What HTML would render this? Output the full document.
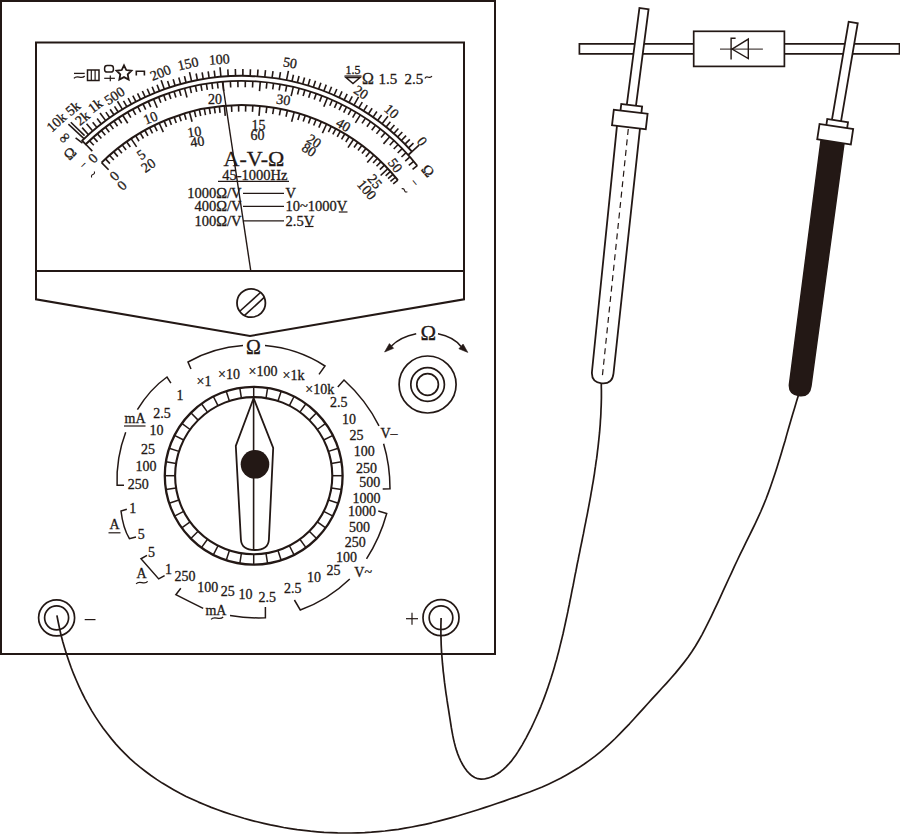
<!DOCTYPE html>
<html><head><meta charset="utf-8"><style>
html,body{margin:0;padding:0;background:#fff;}
svg{display:block;}
</style></head><body>
<svg width="900" height="834" viewBox="0 0 900 834" fill="none" stroke="#231815" font-family="Liberation Serif, serif">
<g id="txt" fill="#231815" stroke="none">
</g>
<rect x="1" y="1" width="494" height="653" stroke-width="2"/>
<path d="M36,42.4 H464 V299.3 L250,336 L36,299.3 Z" stroke-width="2"/>
<line x1="36" y1="271" x2="464" y2="271" stroke-width="2" />
<circle cx="251.2" cy="303" r="14.2" stroke-width="1.8"/>
<line x1="239.5" y1="311.5" x2="260.5" y2="292.5" stroke-width="1.6" />
<line x1="244.3" y1="315.7" x2="264.5" y2="297.2" stroke-width="1.6" />
<path d="M82.15,140.63 A229,229 0 0 1 411.98,151.57" stroke-width="1.9"/>
<path d="M85.7,144.28 A223.9,223.9 0 0 1 417.27,165.73" stroke-width="1.9"/>
<line x1="81.59" y1="140.05" x2="86.26" y2="144.86" stroke-width="1.8" />
<line x1="411.98" y1="151.57" x2="408.19" y2="154.98" stroke-width="1.8" />
<line x1="68.4" y1="124.1" x2="84.2" y2="138.9" stroke-width="1.5" />
<line x1="70.8" y1="122.3" x2="84.6" y2="135.6" stroke-width="1.5" />
<line x1="75.6" y1="137.8" x2="82.5" y2="143.2" stroke-width="1.5" />
<line x1="88.52" y1="134.67" x2="82.16" y2="127.61" stroke-width="1.6" />
<line x1="92.75" y1="130.94" x2="86.57" y2="123.73" stroke-width="1.6" />
<line x1="96.98" y1="127.41" x2="92.68" y2="122.14" stroke-width="1.6" />
<line x1="101.3" y1="123.97" x2="97.12" y2="118.6" stroke-width="1.6" />
<line x1="105.69" y1="120.64" x2="100.04" y2="113" stroke-width="1.6" />
<line x1="109.78" y1="117.68" x2="105.86" y2="112.13" stroke-width="1.6" />
<line x1="113.94" y1="114.82" x2="110.14" y2="109.18" stroke-width="1.6" />
<line x1="118.16" y1="112.05" x2="114.49" y2="106.32" stroke-width="1.6" />
<line x1="122.44" y1="109.37" x2="117.49" y2="101.26" stroke-width="1.6" />
<line x1="126.89" y1="106.72" x2="123.47" y2="100.84" stroke-width="1.6" />
<line x1="131.39" y1="104.17" x2="128.11" y2="98.22" stroke-width="1.6" />
<line x1="135.95" y1="101.73" x2="132.81" y2="95.7" stroke-width="1.6" />
<line x1="140.56" y1="99.39" x2="137.56" y2="93.29" stroke-width="1.6" />
<line x1="145.23" y1="97.16" x2="142.36" y2="90.99" stroke-width="1.6" />
<line x1="149.95" y1="95.03" x2="147.22" y2="88.8" stroke-width="1.6" />
<line x1="154.71" y1="93.01" x2="152.12" y2="86.72" stroke-width="1.6" />
<line x1="159.52" y1="91.09" x2="157.07" y2="84.75" stroke-width="1.6" />
<line x1="164.36" y1="89.29" x2="161.15" y2="80.35" stroke-width="1.6" />
<line x1="169.73" y1="87.44" x2="167.59" y2="80.98" stroke-width="1.6" />
<line x1="175.15" y1="85.71" x2="173.17" y2="79.21" stroke-width="1.6" />
<line x1="180.6" y1="84.13" x2="178.79" y2="77.58" stroke-width="1.6" />
<line x1="186.1" y1="82.68" x2="184.44" y2="76.08" stroke-width="1.6" />
<line x1="191.62" y1="81.36" x2="189.54" y2="72.1" stroke-width="1.6" />
<line x1="197.43" y1="80.14" x2="196.11" y2="73.47" stroke-width="1.6" />
<line x1="203.26" y1="79.07" x2="202.12" y2="72.36" stroke-width="1.6" />
<line x1="209.13" y1="78.14" x2="208.16" y2="71.41" stroke-width="1.6" />
<line x1="215.01" y1="77.37" x2="214.21" y2="70.62" stroke-width="1.6" />
<line x1="220.91" y1="76.75" x2="220.04" y2="67.29" stroke-width="1.6" />
<line x1="228.22" y1="76.2" x2="227.81" y2="69.42" stroke-width="1.6" />
<line x1="235.54" y1="75.89" x2="235.35" y2="69.09" stroke-width="1.6" />
<line x1="242.87" y1="75.8" x2="242.9" y2="69" stroke-width="1.6" />
<line x1="250.19" y1="75.95" x2="250.44" y2="69.16" stroke-width="1.6" />
<line x1="257.51" y1="76.34" x2="257.98" y2="69.56" stroke-width="1.6" />
<line x1="264.81" y1="76.96" x2="265.5" y2="70.19" stroke-width="1.6" />
<line x1="272.09" y1="77.81" x2="272.99" y2="71.07" stroke-width="1.6" />
<line x1="279.34" y1="78.9" x2="280.45" y2="72.19" stroke-width="1.6" />
<line x1="286.55" y1="80.21" x2="288.4" y2="70.9" stroke-width="1.6" />
<line x1="291.98" y1="81.36" x2="293.47" y2="74.73" stroke-width="1.6" />
<line x1="297.38" y1="82.65" x2="299.03" y2="76.05" stroke-width="1.6" />
<line x1="302.74" y1="84.06" x2="304.55" y2="77.5" stroke-width="1.6" />
<line x1="308.07" y1="85.6" x2="310.04" y2="79.09" stroke-width="1.6" />
<line x1="313.37" y1="87.27" x2="315.49" y2="80.81" stroke-width="1.6" />
<line x1="318.62" y1="89.07" x2="320.9" y2="82.66" stroke-width="1.6" />
<line x1="323.82" y1="90.99" x2="326.26" y2="84.64" stroke-width="1.6" />
<line x1="328.98" y1="93.04" x2="331.57" y2="86.76" stroke-width="1.6" />
<line x1="334.08" y1="95.22" x2="336.83" y2="88.99" stroke-width="1.6" />
<line x1="339.14" y1="97.52" x2="342.03" y2="91.36" stroke-width="1.6" />
<line x1="344.13" y1="99.94" x2="347.17" y2="93.85" stroke-width="1.6" />
<line x1="349.07" y1="102.48" x2="352.25" y2="96.47" stroke-width="1.6" />
<line x1="353.94" y1="105.13" x2="358.59" y2="96.85" stroke-width="1.6" />
<line x1="358.82" y1="107.96" x2="362.29" y2="102.11" stroke-width="1.6" />
<line x1="363.63" y1="110.9" x2="367.24" y2="105.14" stroke-width="1.6" />
<line x1="368.36" y1="113.95" x2="372.12" y2="108.29" stroke-width="1.6" />
<line x1="373.02" y1="117.13" x2="376.92" y2="111.55" stroke-width="1.6" />
<line x1="377.6" y1="120.41" x2="381.63" y2="114.94" stroke-width="1.6" />
<line x1="382.1" y1="123.81" x2="387.92" y2="116.3" stroke-width="1.6" />
<line x1="386.1" y1="126.98" x2="390.38" y2="121.7" stroke-width="1.6" />
<line x1="390.03" y1="130.24" x2="394.43" y2="125.06" stroke-width="1.6" />
<line x1="393.88" y1="133.59" x2="398.4" y2="128.51" stroke-width="1.6" />
<line x1="397.66" y1="137.02" x2="402.29" y2="132.04" stroke-width="1.6" />
<line x1="401.36" y1="140.54" x2="406.1" y2="135.66" stroke-width="1.6" />
<line x1="404.98" y1="144.14" x2="409.83" y2="139.37" stroke-width="1.6" />
<line x1="408.52" y1="147.81" x2="413.47" y2="143.15" stroke-width="1.6" />
<line x1="411.98" y1="151.57" x2="419.04" y2="145.21" stroke-width="1.6" />
<line x1="85.7" y1="144.28" x2="92.33" y2="151.09" stroke-width="1.6" />
<line x1="89.5" y1="140.68" x2="93.79" y2="145.3" stroke-width="1.6" />
<line x1="93.38" y1="137.16" x2="97.55" y2="141.88" stroke-width="1.6" />
<line x1="97.34" y1="133.74" x2="101.4" y2="138.55" stroke-width="1.6" />
<line x1="101.38" y1="130.41" x2="105.33" y2="135.32" stroke-width="1.6" />
<line x1="105.49" y1="127.17" x2="109.33" y2="132.17" stroke-width="1.6" />
<line x1="109.68" y1="124.04" x2="113.4" y2="129.12" stroke-width="1.6" />
<line x1="113.94" y1="121" x2="117.54" y2="126.17" stroke-width="1.6" />
<line x1="118.27" y1="118.06" x2="121.75" y2="123.31" stroke-width="1.6" />
<line x1="122.67" y1="115.22" x2="127.73" y2="123.27" stroke-width="1.6" />
<line x1="127.63" y1="112.2" x2="130.84" y2="117.62" stroke-width="1.6" />
<line x1="132.66" y1="109.3" x2="135.73" y2="114.8" stroke-width="1.6" />
<line x1="137.76" y1="106.54" x2="140.69" y2="112.12" stroke-width="1.6" />
<line x1="142.94" y1="103.91" x2="145.72" y2="109.56" stroke-width="1.6" />
<line x1="148.18" y1="101.41" x2="150.81" y2="107.14" stroke-width="1.6" />
<line x1="153.48" y1="99.05" x2="157.23" y2="107.78" stroke-width="1.6" />
<line x1="158.55" y1="96.95" x2="160.89" y2="102.8" stroke-width="1.6" />
<line x1="163.67" y1="94.97" x2="165.87" y2="100.88" stroke-width="1.6" />
<line x1="168.83" y1="93.12" x2="170.89" y2="99.08" stroke-width="1.6" />
<line x1="174.04" y1="91.4" x2="175.95" y2="97.4" stroke-width="1.6" />
<line x1="179.29" y1="89.8" x2="181.05" y2="95.85" stroke-width="1.6" />
<line x1="184.58" y1="88.34" x2="187.01" y2="97.52" stroke-width="1.6" />
<line x1="189.98" y1="86.98" x2="191.43" y2="93.11" stroke-width="1.6" />
<line x1="195.4" y1="85.76" x2="196.71" y2="91.92" stroke-width="1.6" />
<line x1="200.86" y1="84.67" x2="202.01" y2="90.87" stroke-width="1.6" />
<line x1="206.34" y1="83.73" x2="207.34" y2="89.95" stroke-width="1.6" />
<line x1="211.85" y1="82.91" x2="212.69" y2="89.16" stroke-width="1.6" />
<line x1="217.37" y1="82.24" x2="218.06" y2="88.5" stroke-width="1.6" />
<line x1="222.91" y1="81.7" x2="223.71" y2="91.16" stroke-width="1.6" />
<line x1="230.38" y1="81.19" x2="230.7" y2="87.48" stroke-width="1.6" />
<line x1="237.86" y1="80.93" x2="237.97" y2="87.23" stroke-width="1.6" />
<line x1="245.34" y1="80.93" x2="245.24" y2="87.23" stroke-width="1.6" />
<line x1="252.82" y1="81.17" x2="252.51" y2="87.46" stroke-width="1.6" />
<line x1="260.29" y1="81.66" x2="259.5" y2="91.13" stroke-width="1.6" />
<line x1="266.95" y1="82.32" x2="266.24" y2="88.58" stroke-width="1.6" />
<line x1="273.59" y1="83.17" x2="272.7" y2="89.4" stroke-width="1.6" />
<line x1="280.2" y1="84.22" x2="279.12" y2="90.42" stroke-width="1.6" />
<line x1="286.78" y1="85.46" x2="285.52" y2="91.64" stroke-width="1.6" />
<line x1="293.32" y1="86.91" x2="291.13" y2="96.15" stroke-width="1.6" />
<line x1="299.12" y1="88.36" x2="297.51" y2="94.45" stroke-width="1.6" />
<line x1="304.88" y1="89.97" x2="303.11" y2="96.01" stroke-width="1.6" />
<line x1="310.6" y1="91.73" x2="308.66" y2="97.73" stroke-width="1.6" />
<line x1="316.26" y1="93.64" x2="314.17" y2="99.59" stroke-width="1.6" />
<line x1="321.88" y1="95.71" x2="319.62" y2="101.59" stroke-width="1.6" />
<line x1="327.43" y1="97.92" x2="323.8" y2="106.7" stroke-width="1.6" />
<line x1="332.3" y1="100.01" x2="329.76" y2="105.77" stroke-width="1.6" />
<line x1="337.12" y1="102.2" x2="334.44" y2="107.9" stroke-width="1.6" />
<line x1="341.89" y1="104.52" x2="339.07" y2="110.15" stroke-width="1.6" />
<line x1="346.6" y1="106.94" x2="343.65" y2="112.51" stroke-width="1.6" />
<line x1="351.25" y1="109.47" x2="348.17" y2="114.97" stroke-width="1.6" />
<line x1="355.84" y1="112.12" x2="352.63" y2="117.54" stroke-width="1.6" />
<line x1="360.37" y1="114.87" x2="355.34" y2="122.93" stroke-width="1.6" />
<line x1="365.51" y1="118.18" x2="362.02" y2="123.43" stroke-width="1.6" />
<line x1="370.55" y1="121.62" x2="366.93" y2="126.78" stroke-width="1.6" />
<line x1="375.5" y1="125.2" x2="371.74" y2="130.26" stroke-width="1.6" />
<line x1="380.35" y1="128.92" x2="376.46" y2="133.87" stroke-width="1.6" />
<line x1="385.1" y1="132.77" x2="381.07" y2="137.61" stroke-width="1.6" />
<line x1="389.74" y1="136.74" x2="383.47" y2="143.87" stroke-width="1.6" />
<line x1="393.99" y1="140.57" x2="389.71" y2="145.19" stroke-width="1.6" />
<line x1="398.13" y1="144.51" x2="393.73" y2="149.02" stroke-width="1.6" />
<line x1="402.17" y1="148.56" x2="397.66" y2="152.95" stroke-width="1.6" />
<line x1="406.11" y1="152.7" x2="401.49" y2="156.98" stroke-width="1.6" />
<line x1="409.94" y1="156.95" x2="405.21" y2="161.11" stroke-width="1.6" />
<line x1="413.66" y1="161.29" x2="408.82" y2="165.33" stroke-width="1.6" />
<line x1="417.27" y1="165.73" x2="412.57" y2="169.45" stroke-width="1.6" />
<path d="M101.58,162.61 A199.7,199.7 0 0 1 397.87,180.21" stroke-width="2.0"/>
<line x1="101.58" y1="162.61" x2="108.6" y2="169.73" stroke-width="1.6" />
<line x1="105.51" y1="158.84" x2="109.94" y2="163.59" stroke-width="1.6" />
<line x1="109.53" y1="155.18" x2="113.84" y2="160.05" stroke-width="1.6" />
<line x1="113.66" y1="151.63" x2="117.83" y2="156.62" stroke-width="1.6" />
<line x1="117.88" y1="148.2" x2="121.91" y2="153.3" stroke-width="1.6" />
<line x1="122.19" y1="144.88" x2="126.08" y2="150.09" stroke-width="1.6" />
<line x1="126.59" y1="141.68" x2="130.34" y2="146.99" stroke-width="1.6" />
<line x1="131.08" y1="138.61" x2="136.62" y2="146.93" stroke-width="1.6" />
<line x1="135.58" y1="135.69" x2="139.04" y2="141.2" stroke-width="1.6" />
<line x1="140.15" y1="132.9" x2="143.46" y2="138.5" stroke-width="1.6" />
<line x1="144.8" y1="130.24" x2="147.96" y2="135.92" stroke-width="1.6" />
<line x1="149.52" y1="127.7" x2="152.53" y2="133.46" stroke-width="1.6" />
<line x1="154.31" y1="125.29" x2="157.16" y2="131.13" stroke-width="1.6" />
<line x1="159.16" y1="123" x2="163.3" y2="132.11" stroke-width="1.6" />
<line x1="164.08" y1="120.85" x2="166.61" y2="126.83" stroke-width="1.6" />
<line x1="169.06" y1="118.82" x2="171.42" y2="124.87" stroke-width="1.6" />
<line x1="174.09" y1="116.93" x2="176.29" y2="123.05" stroke-width="1.6" />
<line x1="179.17" y1="115.18" x2="181.2" y2="121.35" stroke-width="1.6" />
<line x1="184.29" y1="113.56" x2="186.16" y2="119.78" stroke-width="1.6" />
<line x1="189.46" y1="112.08" x2="192.08" y2="121.73" stroke-width="1.6" />
<line x1="194.37" y1="110.81" x2="195.91" y2="117.13" stroke-width="1.6" />
<line x1="199.31" y1="109.67" x2="200.7" y2="116.02" stroke-width="1.6" />
<line x1="204.28" y1="108.66" x2="205.51" y2="115.04" stroke-width="1.6" />
<line x1="209.28" y1="107.77" x2="210.34" y2="114.18" stroke-width="1.6" />
<line x1="214.3" y1="107" x2="215.19" y2="113.44" stroke-width="1.6" />
<line x1="219.33" y1="106.37" x2="220.06" y2="112.83" stroke-width="1.6" />
<line x1="224.38" y1="105.86" x2="225.25" y2="115.82" stroke-width="1.6" />
<line x1="231.48" y1="105.37" x2="231.81" y2="111.86" stroke-width="1.6" />
<line x1="238.59" y1="105.13" x2="238.69" y2="111.62" stroke-width="1.6" />
<line x1="245.71" y1="105.14" x2="245.58" y2="111.64" stroke-width="1.6" />
<line x1="252.82" y1="105.4" x2="252.46" y2="111.89" stroke-width="1.6" />
<line x1="259.91" y1="105.92" x2="259.01" y2="115.88" stroke-width="1.6" />
<line x1="266.86" y1="106.68" x2="266.04" y2="113.13" stroke-width="1.6" />
<line x1="273.77" y1="107.68" x2="272.73" y2="114.09" stroke-width="1.6" />
<line x1="280.64" y1="108.91" x2="279.38" y2="115.29" stroke-width="1.6" />
<line x1="287.47" y1="110.39" x2="285.98" y2="116.72" stroke-width="1.6" />
<line x1="294.23" y1="112.11" x2="291.61" y2="121.76" stroke-width="1.6" />
<line x1="299.77" y1="113.7" x2="297.89" y2="119.92" stroke-width="1.6" />
<line x1="305.26" y1="115.45" x2="303.2" y2="121.62" stroke-width="1.6" />
<line x1="310.7" y1="117.36" x2="308.46" y2="123.46" stroke-width="1.6" />
<line x1="316.08" y1="119.43" x2="313.66" y2="125.46" stroke-width="1.6" />
<line x1="321.4" y1="121.65" x2="318.81" y2="127.61" stroke-width="1.6" />
<line x1="326.65" y1="124.02" x2="322.4" y2="133.07" stroke-width="1.6" />
<line x1="331.3" y1="126.28" x2="328.39" y2="132.09" stroke-width="1.6" />
<line x1="335.89" y1="128.65" x2="332.83" y2="134.39" stroke-width="1.6" />
<line x1="340.42" y1="131.15" x2="337.21" y2="136.8" stroke-width="1.6" />
<line x1="344.88" y1="133.76" x2="341.52" y2="139.33" stroke-width="1.6" />
<line x1="349.27" y1="136.48" x2="345.77" y2="141.96" stroke-width="1.6" />
<line x1="353.59" y1="139.32" x2="347.99" y2="147.61" stroke-width="1.6" />
<line x1="357.8" y1="142.25" x2="354.03" y2="147.54" stroke-width="1.6" />
<line x1="361.94" y1="145.28" x2="358.03" y2="150.47" stroke-width="1.6" />
<line x1="366" y1="148.42" x2="361.95" y2="153.51" stroke-width="1.6" />
<line x1="369.97" y1="151.66" x2="365.8" y2="156.64" stroke-width="1.6" />
<line x1="373.86" y1="155" x2="367.25" y2="162.5" stroke-width="1.6" />
<line x1="377.5" y1="158.28" x2="373.08" y2="163.05" stroke-width="1.6" />
<line x1="381.05" y1="161.65" x2="376.51" y2="166.31" stroke-width="1.6" />
<line x1="384.51" y1="165.11" x2="379.87" y2="169.66" stroke-width="1.6" />
<line x1="387.89" y1="168.65" x2="380.58" y2="175.47" stroke-width="1.6" />
<line x1="390.47" y1="171.47" x2="385.63" y2="175.81" stroke-width="1.6" />
<line x1="392.99" y1="174.33" x2="388.07" y2="178.58" stroke-width="1.6" />
<line x1="395.46" y1="177.25" x2="390.46" y2="181.4" stroke-width="1.6" />
<line x1="397.87" y1="180.21" x2="393.18" y2="183.95" stroke-width="1.6" />
<line x1="222.3" y1="81.5" x2="250.8" y2="271" stroke-width="1.4" />
<text x="56.6" y="122.3" font-size="14" text-anchor="middle" dominant-baseline="central" fill="#231815" stroke="#231815" stroke-width="0.3" transform="rotate(-42 56.6 122.3)" >10k</text>
<text x="73" y="108.6" font-size="14" text-anchor="middle" dominant-baseline="central" fill="#231815" stroke="#231815" stroke-width="0.3" transform="rotate(-40 73 108.6)" >5k</text>
<text x="82.5" y="118.4" font-size="14" text-anchor="middle" dominant-baseline="central" fill="#231815" stroke="#231815" stroke-width="0.3" transform="rotate(-40 82.5 118.4)" >2k</text>
<text x="95.4" y="106" font-size="14" text-anchor="middle" dominant-baseline="central" fill="#231815" stroke="#231815" stroke-width="0.3" transform="rotate(-37 95.4 106)" >1k</text>
<text x="114.5" y="96" font-size="14" text-anchor="middle" dominant-baseline="central" fill="#231815" stroke="#231815" stroke-width="0.3" transform="rotate(-33 114.5 96)" >500</text>
<text x="160.5" y="73" font-size="14" text-anchor="middle" dominant-baseline="central" fill="#231815" stroke="#231815" stroke-width="0.3" transform="rotate(-22 160.5 73)" >200</text>
<text x="188" y="63.8" font-size="14" text-anchor="middle" dominant-baseline="central" fill="#231815" stroke="#231815" stroke-width="0.3" transform="rotate(-13 188 63.8)" >150</text>
<text x="219.3" y="59.5" font-size="14" text-anchor="middle" dominant-baseline="central" fill="#231815" stroke="#231815" stroke-width="0.3" transform="rotate(-4 219.3 59.5)" >100</text>
<text x="290" y="63" font-size="14" text-anchor="middle" dominant-baseline="central" fill="#231815" stroke="#231815" stroke-width="0.3" transform="rotate(9 290 63)" >50</text>
<text x="361" y="92.5" font-size="14" text-anchor="middle" dominant-baseline="central" fill="#231815" stroke="#231815" stroke-width="0.3" transform="rotate(32 361 92.5)" >20</text>
<text x="391.5" y="111.5" font-size="14" text-anchor="middle" dominant-baseline="central" fill="#231815" stroke="#231815" stroke-width="0.3" transform="rotate(42 391.5 111.5)" >10</text>
<text x="422" y="141.5" font-size="14" text-anchor="middle" dominant-baseline="central" fill="#231815" stroke="#231815" stroke-width="0.3" transform="rotate(52 422 141.5)" >0</text>
<text x="93" y="158.4" font-size="14" text-anchor="middle" dominant-baseline="central" fill="#231815" stroke="#231815" stroke-width="0.3" transform="rotate(-45 93 158.4)" >0</text>
<text x="150.6" y="118" font-size="14" text-anchor="middle" dominant-baseline="central" fill="#231815" stroke="#231815" stroke-width="0.3" transform="rotate(-22 150.6 118)" >10</text>
<text x="214.9" y="99.5" font-size="14" text-anchor="middle" dominant-baseline="central" fill="#231815" stroke="#231815" stroke-width="0.3" >20</text>
<text x="283.4" y="100" font-size="14" text-anchor="middle" dominant-baseline="central" fill="#231815" stroke="#231815" stroke-width="0.3" transform="rotate(8 283.4 100)" >30</text>
<text x="343.3" y="125" font-size="14" text-anchor="middle" dominant-baseline="central" fill="#231815" stroke="#231815" stroke-width="0.3" transform="rotate(30 343.3 125)" >40</text>
<text x="395" y="165.6" font-size="14" text-anchor="middle" dominant-baseline="central" fill="#231815" stroke="#231815" stroke-width="0.3" transform="rotate(52 395 165.6)" >50</text>
<text x="114.5" y="176" font-size="14" text-anchor="middle" dominant-baseline="central" fill="#231815" stroke="#231815" stroke-width="0.3" transform="rotate(-45 114.5 176)" >0</text>
<text x="122" y="185.5" font-size="14" text-anchor="middle" dominant-baseline="central" fill="#231815" stroke="#231815" stroke-width="0.3" transform="rotate(-45 122 185.5)" >0</text>
<text x="141.3" y="154.7" font-size="14" text-anchor="middle" dominant-baseline="central" fill="#231815" stroke="#231815" stroke-width="0.3" transform="rotate(-35 141.3 154.7)" >5</text>
<text x="148.5" y="165.5" font-size="14" text-anchor="middle" dominant-baseline="central" fill="#231815" stroke="#231815" stroke-width="0.3" transform="rotate(-35 148.5 165.5)" >20</text>
<text x="194.3" y="132" font-size="14" text-anchor="middle" dominant-baseline="central" fill="#231815" stroke="#231815" stroke-width="0.3" transform="rotate(-8 194.3 132)" >10</text>
<text x="197.4" y="141.9" font-size="14" text-anchor="middle" dominant-baseline="central" fill="#231815" stroke="#231815" stroke-width="0.3" transform="rotate(-8 197.4 141.9)" >40</text>
<text x="258.5" y="125.4" font-size="14" text-anchor="middle" dominant-baseline="central" fill="#231815" stroke="#231815" stroke-width="0.3" >15</text>
<text x="257.5" y="135.7" font-size="14" text-anchor="middle" dominant-baseline="central" fill="#231815" stroke="#231815" stroke-width="0.3" >60</text>
<text x="314" y="141.2" font-size="14" text-anchor="middle" dominant-baseline="central" fill="#231815" stroke="#231815" stroke-width="0.3" transform="rotate(32 314 141.2)" >20</text>
<text x="309" y="150" font-size="14" text-anchor="middle" dominant-baseline="central" fill="#231815" stroke="#231815" stroke-width="0.3" transform="rotate(32 309 150)" >80</text>
<text x="374.8" y="181.5" font-size="14" text-anchor="middle" dominant-baseline="central" fill="#231815" stroke="#231815" stroke-width="0.3" transform="rotate(50 374.8 181.5)" >25</text>
<text x="366.6" y="190" font-size="14" text-anchor="middle" dominant-baseline="central" fill="#231815" stroke="#231815" stroke-width="0.3" transform="rotate(50 366.6 190)" >100</text>
<text x="70" y="153.6" font-size="15" text-anchor="middle" dominant-baseline="central" fill="#231815" stroke="#231815" stroke-width="0.3" transform="rotate(-45 70 153.6)" >Ω</text>
<text x="64.3" y="137.4" font-size="15" text-anchor="middle" dominant-baseline="central" fill="#231815" stroke="#231815" stroke-width="0.3" transform="rotate(-45 64.3 137.4)" >∞</text>
<text x="82.5" y="164" font-size="10" text-anchor="middle" dominant-baseline="central" fill="#231815" stroke="#231815" stroke-width="0.3" transform="rotate(-45 82.5 164)" >–</text>
<g transform="rotate(-45 93 174.5)">
<path d="M90,175.7 C91.8,171.5 94.2,177.5 96,173.3" stroke-width="1.1"/>
</g>
<text x="428" y="170.7" font-size="15" text-anchor="middle" dominant-baseline="central" fill="#231815" stroke="#231815" stroke-width="0.3" transform="rotate(50 428 170.7)" >Ω</text>
<text x="415.5" y="181.8" font-size="10" text-anchor="middle" dominant-baseline="central" fill="#231815" stroke="#231815" stroke-width="0.3" transform="rotate(50 415.5 181.8)" >–</text>
<g transform="rotate(50 404.5 190.3)">
<path d="M401.5,191.5 C403.3,187.3 405.7,193.3 407.5,189.1" stroke-width="1.1"/>
</g>
<line x1="74" y1="73.4" x2="84.7" y2="73.4" stroke-width="1.3" />
<path d="M73.95,78.4 C77.16,74.2 81.44,80.2 84.65,76" stroke-width="1.3"/>
<rect x="87.5" y="70" width="11.5" height="10.5" stroke-width="1.5"/>
<line x1="91.3" y1="70" x2="91.3" y2="80.5" stroke-width="1.2" />
<line x1="95.1" y1="70" x2="95.1" y2="80.5" stroke-width="1.2" />
<rect x="104.6" y="65.6" width="8.8" height="6.4" rx="2.6" stroke-width="1.5"/>
<line x1="104.2" y1="78.3" x2="114.9" y2="78.3" stroke-width="1.2" />
<line x1="110.3" y1="75.6" x2="110.3" y2="81.2" stroke-width="1.2" />
<path d="M124.00,65.30 L126.29,70.04 L131.51,70.76 L127.71,74.41 L128.64,79.59 L124.00,77.10 L119.36,79.59 L120.29,74.41 L116.49,70.76 L121.71,70.04 Z" stroke-width="1.8" stroke-linejoin="miter"/>
<path d="M136.3,75.5 V71.2 H144.4 V75.5" stroke-width="1.6"/>
<text x="353" y="69.8" font-size="12" text-anchor="middle" dominant-baseline="central" fill="#231815" stroke="#231815" stroke-width="0.3" >1.5</text>
<line x1="344.5" y1="76" x2="361.5" y2="76" stroke-width="1.2" />
<path d="M346,77.5 H360 L353,83.5 Z" stroke-width="1.5"/>
<text x="368" y="78.8" font-size="16" text-anchor="middle" dominant-baseline="central" fill="#231815" stroke="#231815" stroke-width="0.3" >Ω</text>
<text x="387.8" y="78.8" font-size="15" text-anchor="middle" dominant-baseline="central" fill="#231815" stroke="#231815" stroke-width="0.3" >1.5</text>
<text x="404.6" y="78.8" font-size="15" text-anchor="start" dominant-baseline="central" fill="#231815" stroke="#231815" stroke-width="0.3" >2.5</text>
<path d="M424.9,78.4 C427,74.2 429.8,80.2 431.9,76" stroke-width="1.2"/>
<text x="254" y="158.5" font-size="22" text-anchor="middle" dominant-baseline="central" fill="#231815" stroke="#231815" stroke-width="0.3" >A-V-Ω</text>
<text x="254.8" y="174.5" font-size="14.5" text-anchor="middle" dominant-baseline="central" fill="#231815" stroke="#231815" stroke-width="0.3" >45-1000Hz</text>
<line x1="218" y1="181.4" x2="289" y2="181.4" stroke-width="1.3" />
<text x="241.5" y="193" font-size="14.5" text-anchor="end" dominant-baseline="central" fill="#231815" stroke="#231815" stroke-width="0.3" >1000Ω/V</text>
<line x1="243" y1="193.3" x2="284" y2="193.3" stroke-width="1.3" />
<text x="285.5" y="193" font-size="14.5" text-anchor="start" dominant-baseline="central" fill="#231815" stroke="#231815" stroke-width="0.3" >V</text>
<text x="241.5" y="206" font-size="14.5" text-anchor="end" dominant-baseline="central" fill="#231815" stroke="#231815" stroke-width="0.3" >400Ω/V</text>
<line x1="243" y1="206.3" x2="284" y2="206.3" stroke-width="1.3" />
<text x="285.5" y="206" font-size="14.5" text-anchor="start" dominant-baseline="central" fill="#231815" stroke="#231815" stroke-width="0.3" >10~1000V</text>
<text x="241.5" y="220.5" font-size="14.5" text-anchor="end" dominant-baseline="central" fill="#231815" stroke="#231815" stroke-width="0.3" >100Ω/V</text>
<line x1="243" y1="220.8" x2="284" y2="220.8" stroke-width="1.3" />
<text x="285.5" y="220.5" font-size="14.5" text-anchor="start" dominant-baseline="central" fill="#231815" stroke="#231815" stroke-width="0.3" >2.5V</text>
<line x1="338.8" y1="212" x2="347.5" y2="212" stroke-width="1.2" />
<line x1="305" y1="226.5" x2="313.5" y2="226.5" stroke-width="1.2" />
<circle cx="253.7" cy="475.7" r="88.9" stroke-width="2.3"/>
<circle cx="253.7" cy="475.7" r="78.6" stroke-width="2.1"/>
<line x1="253.7" y1="397.1" x2="253.7" y2="386.8" stroke-width="1.5" />
<line x1="266" y1="398.07" x2="267.61" y2="387.89" stroke-width="1.5" />
<line x1="277.99" y1="400.95" x2="281.17" y2="391.15" stroke-width="1.5" />
<line x1="289.38" y1="405.67" x2="294.06" y2="396.49" stroke-width="1.5" />
<line x1="299.9" y1="412.11" x2="305.95" y2="403.78" stroke-width="1.5" />
<line x1="309.28" y1="420.12" x2="316.56" y2="412.84" stroke-width="1.5" />
<line x1="317.29" y1="429.5" x2="325.62" y2="423.45" stroke-width="1.5" />
<line x1="323.73" y1="440.02" x2="332.91" y2="435.34" stroke-width="1.5" />
<line x1="328.45" y1="451.41" x2="338.25" y2="448.23" stroke-width="1.5" />
<line x1="331.33" y1="463.4" x2="341.51" y2="461.79" stroke-width="1.5" />
<line x1="332.3" y1="475.7" x2="342.6" y2="475.7" stroke-width="1.5" />
<line x1="331.33" y1="488" x2="341.51" y2="489.61" stroke-width="1.5" />
<line x1="328.45" y1="499.99" x2="338.25" y2="503.17" stroke-width="1.5" />
<line x1="323.73" y1="511.38" x2="332.91" y2="516.06" stroke-width="1.5" />
<line x1="317.29" y1="521.9" x2="325.62" y2="527.95" stroke-width="1.5" />
<line x1="309.28" y1="531.28" x2="316.56" y2="538.56" stroke-width="1.5" />
<line x1="299.9" y1="539.29" x2="305.95" y2="547.62" stroke-width="1.5" />
<line x1="289.38" y1="545.73" x2="294.06" y2="554.91" stroke-width="1.5" />
<line x1="277.99" y1="550.45" x2="281.17" y2="560.25" stroke-width="1.5" />
<line x1="266" y1="553.33" x2="267.61" y2="563.51" stroke-width="1.5" />
<line x1="253.7" y1="554.3" x2="253.7" y2="564.6" stroke-width="1.5" />
<line x1="241.4" y1="553.33" x2="239.79" y2="563.51" stroke-width="1.5" />
<line x1="229.41" y1="550.45" x2="226.23" y2="560.25" stroke-width="1.5" />
<line x1="218.02" y1="545.73" x2="213.34" y2="554.91" stroke-width="1.5" />
<line x1="207.5" y1="539.29" x2="201.45" y2="547.62" stroke-width="1.5" />
<line x1="198.12" y1="531.28" x2="190.84" y2="538.56" stroke-width="1.5" />
<line x1="190.11" y1="521.9" x2="181.78" y2="527.95" stroke-width="1.5" />
<line x1="183.67" y1="511.38" x2="174.49" y2="516.06" stroke-width="1.5" />
<line x1="178.95" y1="499.99" x2="169.15" y2="503.17" stroke-width="1.5" />
<line x1="176.07" y1="488" x2="165.89" y2="489.61" stroke-width="1.5" />
<line x1="175.1" y1="475.7" x2="164.8" y2="475.7" stroke-width="1.5" />
<line x1="176.07" y1="463.4" x2="165.89" y2="461.79" stroke-width="1.5" />
<line x1="178.95" y1="451.41" x2="169.15" y2="448.23" stroke-width="1.5" />
<line x1="183.67" y1="440.02" x2="174.49" y2="435.34" stroke-width="1.5" />
<line x1="190.11" y1="429.5" x2="181.78" y2="423.45" stroke-width="1.5" />
<line x1="198.12" y1="420.12" x2="190.84" y2="412.84" stroke-width="1.5" />
<line x1="207.5" y1="412.11" x2="201.45" y2="403.78" stroke-width="1.5" />
<line x1="218.02" y1="405.67" x2="213.34" y2="396.49" stroke-width="1.5" />
<line x1="229.41" y1="400.95" x2="226.23" y2="391.15" stroke-width="1.5" />
<line x1="241.4" y1="398.07" x2="239.79" y2="387.89" stroke-width="1.5" />
<path d="M253.6,398.2 L235.8,446 L240.9,539.5 Q241.5,550 254.9,550 Q268.3,550 268.9,539.5 L273.2,447.9 Z" stroke-width="1.8" fill="#fff"/>
<line x1="253.6" y1="398.2" x2="253.6" y2="550" stroke-width="1.6" />
<circle cx="255" cy="464.3" r="14.3" fill="#231815" stroke="none"/>
<text x="204" y="381.5" font-size="14" text-anchor="middle" dominant-baseline="central" fill="#231815" stroke="#231815" stroke-width="0.3" >×1</text>
<text x="229" y="374.5" font-size="14" text-anchor="middle" dominant-baseline="central" fill="#231815" stroke="#231815" stroke-width="0.3" >×10</text>
<text x="263" y="371.5" font-size="14" text-anchor="middle" dominant-baseline="central" fill="#231815" stroke="#231815" stroke-width="0.3" >×100</text>
<text x="293.5" y="375" font-size="14" text-anchor="middle" dominant-baseline="central" fill="#231815" stroke="#231815" stroke-width="0.3" >×1k</text>
<text x="319.8" y="389" font-size="14" text-anchor="middle" dominant-baseline="central" fill="#231815" stroke="#231815" stroke-width="0.3" >×10k</text>
<text x="179.9" y="395.3" font-size="14" text-anchor="middle" dominant-baseline="central" fill="#231815" stroke="#231815" stroke-width="0.3" >1</text>
<text x="162" y="413.3" font-size="14" text-anchor="middle" dominant-baseline="central" fill="#231815" stroke="#231815" stroke-width="0.3" >2.5</text>
<text x="156.5" y="430" font-size="14" text-anchor="middle" dominant-baseline="central" fill="#231815" stroke="#231815" stroke-width="0.3" >10</text>
<text x="148" y="449.9" font-size="14" text-anchor="middle" dominant-baseline="central" fill="#231815" stroke="#231815" stroke-width="0.3" >25</text>
<text x="146" y="466.2" font-size="14" text-anchor="middle" dominant-baseline="central" fill="#231815" stroke="#231815" stroke-width="0.3" >100</text>
<text x="138.2" y="484.5" font-size="14" text-anchor="middle" dominant-baseline="central" fill="#231815" stroke="#231815" stroke-width="0.3" >250</text>
<text x="135" y="418" font-size="14" text-anchor="middle" dominant-baseline="central" fill="#231815" stroke="#231815" stroke-width="0.3" >mA</text>
<line x1="124" y1="426" x2="145.5" y2="426" stroke-width="1.2" />
<path d="M137.4,409.7 Q150,389 167,377 L170.9,383.2" stroke-width="1.5"/>
<path d="M125.7,432.3 Q116,458 117.1,485.3 L124,485.3" stroke-width="1.5"/>
<text x="114.5" y="524.5" font-size="14" text-anchor="middle" dominant-baseline="central" fill="#231815" stroke="#231815" stroke-width="0.3" >A</text>
<line x1="108.5" y1="532.8" x2="120.5" y2="532.8" stroke-width="1.2" />
<path d="M126.8,509.3 L121,511 Q123,528 129.4,538.7 L136,537" stroke-width="1.5"/>
<text x="132.7" y="508.9" font-size="14" text-anchor="middle" dominant-baseline="central" fill="#231815" stroke="#231815" stroke-width="0.3" >1</text>
<text x="141.2" y="534" font-size="14" text-anchor="middle" dominant-baseline="central" fill="#231815" stroke="#231815" stroke-width="0.3" >5</text>
<text x="151.6" y="552.8" font-size="14" text-anchor="middle" dominant-baseline="central" fill="#231815" stroke="#231815" stroke-width="0.3" >5</text>
<path d="M147,555.4 L141,558.8 L158.7,578.9 L164.6,575.6" stroke-width="1.5"/>
<text x="141.6" y="573.5" font-size="14" text-anchor="middle" dominant-baseline="central" fill="#231815" stroke="#231815" stroke-width="0.3" >A</text>
<path d="M136.15,583.8 C139.6,579.6 144.2,585.6 147.65,581.4" stroke-width="1.3"/>
<text x="168.4" y="569" font-size="14" text-anchor="middle" dominant-baseline="central" fill="#231815" stroke="#231815" stroke-width="0.3" >1</text>
<text x="185" y="576.3" font-size="14" text-anchor="middle" dominant-baseline="central" fill="#231815" stroke="#231815" stroke-width="0.3" >250</text>
<text x="207.8" y="587.1" font-size="14" text-anchor="middle" dominant-baseline="central" fill="#231815" stroke="#231815" stroke-width="0.3" >100</text>
<text x="227.8" y="591.7" font-size="14" text-anchor="middle" dominant-baseline="central" fill="#231815" stroke="#231815" stroke-width="0.3" >25</text>
<text x="245.5" y="594.6" font-size="14" text-anchor="middle" dominant-baseline="central" fill="#231815" stroke="#231815" stroke-width="0.3" >10</text>
<text x="267.2" y="597.2" font-size="14" text-anchor="middle" dominant-baseline="central" fill="#231815" stroke="#231815" stroke-width="0.3" >2.5</text>
<text x="215.9" y="610.6" font-size="14" text-anchor="middle" dominant-baseline="central" fill="#231815" stroke="#231815" stroke-width="0.3" >mA</text>
<path d="M211.1,619.4 C214.7,615.2 219.5,621.2 223.1,617" stroke-width="1.3"/>
<path d="M180.8,588.2 L175.8,594.7 Q190,602 203.2,608.4" stroke-width="1.5"/>
<path d="M230,615.6 Q248,618.5 265.4,617.8 L265.4,607" stroke-width="1.5"/>
<text x="338.7" y="402.4" font-size="14" text-anchor="middle" dominant-baseline="central" fill="#231815" stroke="#231815" stroke-width="0.3" >2.5</text>
<text x="349" y="419" font-size="14" text-anchor="middle" dominant-baseline="central" fill="#231815" stroke="#231815" stroke-width="0.3" >10</text>
<text x="356.6" y="435" font-size="14" text-anchor="middle" dominant-baseline="central" fill="#231815" stroke="#231815" stroke-width="0.3" >25</text>
<text x="364.3" y="451.8" font-size="14" text-anchor="middle" dominant-baseline="central" fill="#231815" stroke="#231815" stroke-width="0.3" >100</text>
<text x="366.5" y="468" font-size="14" text-anchor="middle" dominant-baseline="central" fill="#231815" stroke="#231815" stroke-width="0.3" >250</text>
<text x="369.7" y="482.9" font-size="14" text-anchor="middle" dominant-baseline="central" fill="#231815" stroke="#231815" stroke-width="0.3" >500</text>
<text x="366.5" y="498.2" font-size="14" text-anchor="middle" dominant-baseline="central" fill="#231815" stroke="#231815" stroke-width="0.3" >1000</text>
<text x="362" y="511.6" font-size="14" text-anchor="middle" dominant-baseline="central" fill="#231815" stroke="#231815" stroke-width="0.3" >1000</text>
<text x="359.5" y="527" font-size="14" text-anchor="middle" dominant-baseline="central" fill="#231815" stroke="#231815" stroke-width="0.3" >500</text>
<text x="355.2" y="542" font-size="14" text-anchor="middle" dominant-baseline="central" fill="#231815" stroke="#231815" stroke-width="0.3" >250</text>
<text x="346.4" y="557" font-size="14" text-anchor="middle" dominant-baseline="central" fill="#231815" stroke="#231815" stroke-width="0.3" >100</text>
<text x="333.4" y="570.5" font-size="14" text-anchor="middle" dominant-baseline="central" fill="#231815" stroke="#231815" stroke-width="0.3" >25</text>
<text x="314" y="577.2" font-size="14" text-anchor="middle" dominant-baseline="central" fill="#231815" stroke="#231815" stroke-width="0.3" >10</text>
<text x="292.7" y="588.1" font-size="14" text-anchor="middle" dominant-baseline="central" fill="#231815" stroke="#231815" stroke-width="0.3" >2.5</text>
<text x="389" y="433.2" font-size="14" text-anchor="middle" dominant-baseline="central" fill="#231815" stroke="#231815" stroke-width="0.3" >V–</text>
<text x="363.2" y="572" font-size="14" text-anchor="middle" dominant-baseline="central" fill="#231815" stroke="#231815" stroke-width="0.3" >V~</text>
<path d="M337.8,387 L344,380 Q366,400 379,425.8" stroke-width="1.5"/>
<path d="M383.6,443.7 Q390,465 390,488.7 L382.7,489" stroke-width="1.5"/>
<path d="M378.3,511 L386.7,513.5 Q380,538 366.5,558.8" stroke-width="1.5"/>
<path d="M349.8,579 Q328,600 300.3,610 L294.4,600" stroke-width="1.5"/>
<path d="M191,369 L188,362 A131,131 0 0 1 243,345.6" stroke-width="1.5"/>
<path d="M265,345.6 A131,131 0 0 1 325,366 L319,374.4" stroke-width="1.5"/>
<text x="253.5" y="346.5" font-size="20" text-anchor="middle" dominant-baseline="central" fill="#231815" stroke="#231815" stroke-width="0.3" >Ω</text>
<circle cx="427.6" cy="384.5" r="28.5" stroke-width="1.7"/>
<circle cx="427.6" cy="384.5" r="16.8" stroke-width="1.7"/>
<circle cx="427.6" cy="384.5" r="10.8" stroke-width="1.7"/>
<text x="428.4" y="333" font-size="21" text-anchor="middle" dominant-baseline="central" fill="#231815" stroke="#231815" stroke-width="0.3" >Ω</text>
<path d="M416.2,333.7 Q400,337 391.5,346" stroke-width="1.5"/>
<path d="M384.6,352 L393.6,348.3 L389.4,343.6 Z" fill="#231815" stroke="#231815" stroke-width="0.6" stroke-linejoin="miter"/>
<path d="M438,333.7 Q454,337 461,346.5" stroke-width="1.5"/>
<path d="M467.8,352.4 L458.9,348.8 L463.1,344.1 Z" fill="#231815" stroke="#231815" stroke-width="0.6" stroke-linejoin="miter"/>
<circle cx="56.6" cy="617.8" r="18" stroke-width="1.7"/>
<circle cx="56.6" cy="617.8" r="12" stroke-width="1.7"/>
<circle cx="441" cy="617.7" r="18" stroke-width="1.7"/>
<circle cx="441" cy="617.7" r="11.8" stroke-width="1.7"/>
<line x1="84.7" y1="619.6" x2="95.5" y2="619.6" stroke-width="1.2" />
<line x1="406" y1="618.7" x2="418" y2="618.7" stroke-width="1.2" />
<line x1="412" y1="612.7" x2="412" y2="624.7" stroke-width="1.2" />
<path d="M56.9,615.4 L58.2,622.0 L59.6,628.6 L61.1,635.2 L62.8,641.7 L64.7,648.3 L66.7,654.8 L68.9,661.3 L71.2,667.8 L73.7,674.2 L76.4,680.5 L79.2,686.8 L82.1,693.0 L85.2,699.1 L88.5,705.1 L91.9,711.1 L95.5,716.9 L99.3,722.6 L103.2,728.2 L107.3,733.6 L111.5,738.9 L115.9,744.1 L120.5,749.1 L125.2,753.9 L130.0,758.6 L135.1,763.1 L140.3,767.4 L145.6,771.5 L151.0,775.5 L156.6,779.4 L162.3,783.1 L168.1,786.6 L174.0,790.0 L180.0,793.3 L186.1,796.4 L192.3,799.3 L198.5,802.1 L204.9,804.8 L211.2,807.4 L217.7,809.8 L224.2,812.1 L230.7,814.3 L237.2,816.3 L243.8,818.3 L250.4,820.1 L257.1,821.8 L263.7,823.4 L270.4,824.9 L277.0,826.2 L283.7,827.5 L290.4,828.6 L297.2,829.6 L303.9,830.4 L310.6,831.2 L317.4,831.8 L324.1,832.3 L330.9,832.6 L337.6,832.9 L344.4,833.0 L351.2,833.0 L357.9,832.8 L364.7,832.6 L371.4,832.2 L378.2,831.6 L384.9,831.0 L391.7,830.2 L398.4,829.3 L405.1,828.2 L411.8,827.0 L418.5,825.7 L425.2,824.3 L431.8,822.8 L438.5,821.1 L445.1,819.4 L451.7,817.6 L458.3,815.8 L464.9,813.8 L471.5,811.8 L478.0,809.7 L484.5,807.6 L491.0,805.5 L497.5,803.3 L504.0,801.1 L510.4,798.8 L516.9,796.6 L523.2,794.3 L529.6,792.0 L535.9,789.5 L542.2,787.0 L548.4,784.2 L554.5,781.3 L560.6,778.3 L566.5,775.0 L572.4,771.6 L578.2,768.1 L583.9,764.3 L589.4,760.4 L594.8,756.4 L600.1,752.1 L605.3,747.7 L610.3,743.2 L615.2,738.5 L620.0,733.6 L624.8,728.7 L629.5,723.8 L634.1,718.7 L638.7,713.7 L643.3,708.6 L647.9,703.5 L652.5,698.4 L657.2,693.4 L661.8,688.3 L666.4,683.3 L670.9,678.2 L675.4,673.1 L679.7,667.9 L683.9,662.6 L688.0,657.2 L691.8,651.7 L695.5,646.0 L698.9,640.2 L702.2,634.3 L705.4,628.2 L708.4,622.2 L711.4,616.1 L714.3,609.9 L717.2,603.8 L720.1,597.6 L722.9,591.4 L725.8,585.2 L728.6,579.0 L731.5,572.9 L734.3,566.7 L737.2,560.5 L740.1,554.4 L743.1,548.3 L746.1,542.2 L749.1,536.1 L752.1,530.0 L755.1,523.9 L758.0,517.7 L760.8,511.5 L763.4,505.3 L766.0,499.0 L768.4,492.6 L770.7,486.2 L772.9,479.8 L775.1,473.3 L777.2,466.8 L779.2,460.3 L781.2,453.8 L783.1,447.3 L785.1,440.7 L786.9,434.1 L788.8,427.6 L790.7,421.0 L792.6,414.5 L794.6,408.0 L796.5,401.5 L798.5,395.0" stroke-width="1.7" stroke-linejoin="round"/>
<path d="M441.1,617.9 L441.0,621.9 L440.9,625.8 L440.9,629.7 L440.9,633.6 L441.0,637.4 L441.1,641.3 L441.2,645.0 L441.4,648.8 L441.6,652.6 L441.9,656.3 L442.2,660.0 L442.5,663.7 L442.9,667.4 L443.2,671.1 L443.7,674.8 L444.1,678.5 L444.5,682.2 L445.0,685.9 L445.5,689.6 L446.0,693.3 L446.6,697.0 L447.1,700.7 L447.7,704.5 L448.3,708.2 L448.9,712.0 L449.5,715.8 L450.1,719.7 L450.7,723.5 L451.3,727.4 L452.0,731.3 L452.7,735.2 L453.5,739.1 L454.4,742.9 L455.4,746.7 L456.5,750.4 L457.8,754.1 L459.2,757.6 L460.8,761.1 L462.6,764.5 L464.6,767.8 L466.8,770.8 L469.3,773.5 L471.9,775.8 L474.7,777.5 L477.8,778.7 L481.0,779.2 L484.4,779.0 L487.8,778.2 L491.2,777.0 L494.4,775.6 L497.5,773.8 L500.5,771.7 L503.3,769.4 L506.0,766.9 L508.6,764.2 L511.1,761.4 L513.4,758.3 L515.7,755.2 L517.9,751.9 L520.0,748.5 L522.1,745.1 L524.0,741.6 L526.0,738.1 L527.8,734.6 L529.6,731.1 L531.4,727.6 L533.1,724.0 L534.7,720.5 L536.3,717.0 L537.9,713.4 L539.4,709.8 L540.9,706.3 L542.3,702.7 L543.7,699.1 L545.0,695.6 L546.3,692.0 L547.6,688.4 L548.8,684.8 L550.0,681.2 L551.2,677.6 L552.3,674.0 L553.4,670.4 L554.5,666.7 L555.5,663.1 L556.6,659.5 L557.5,655.9 L558.5,652.2 L559.4,648.6 L560.3,644.9 L561.2,641.3 L562.1,637.6 L563.0,634.0 L563.8,630.3 L564.6,626.6 L565.4,623.0 L566.2,619.3 L567.0,615.6 L567.8,611.9 L568.5,608.2 L569.3,604.5 L570.0,600.8 L570.8,597.1 L571.5,593.4 L572.2,589.7 L573.0,586.0 L573.7,582.3 L574.4,578.6 L575.1,574.9 L575.9,571.2 L576.6,567.5 L577.3,563.7 L578.1,560.0 L578.8,556.3 L579.6,552.6 L580.3,548.8 L581.1,545.1 L581.9,541.3 L582.6,537.6 L583.4,533.9 L584.1,530.1 L584.8,526.4 L585.6,522.6 L586.3,518.9 L587.1,515.1 L587.8,511.4 L588.5,507.6 L589.2,503.9 L589.9,500.1 L590.6,496.3 L591.2,492.6 L591.9,488.8 L592.5,485.1 L593.2,481.3 L593.8,477.5 L594.4,473.8 L594.9,470.0 L595.5,466.2 L596.0,462.4 L596.6,458.7 L597.1,454.9 L597.5,451.1 L598.0,447.3 L598.4,443.6 L598.8,439.8 L599.2,436.0 L599.6,432.2 L599.9,428.4 L600.2,424.7 L600.4,420.9 L600.7,417.1 L600.9,413.3 L601.0,409.5 L601.2,405.8 L601.3,402.0 L601.4,398.2 L601.4,394.4 L601.4,390.6 L601.3,386.8 L601.3,383.0" stroke-width="1.7" stroke-linejoin="round"/>
<path d="M899.5,43.9 H579.4 V53.8 H899.5 Z" stroke-width="1.7" fill="#fff"/>
<rect x="693.7" y="31.3" width="90.7" height="35.1" stroke-width="1.7" fill="#fff"/>
<line x1="720" y1="49.1" x2="762.9" y2="49.1" stroke-width="1.0" />
<path d="M735.6,38.3 H731.1 V59.4" stroke-width="1.4"/>
<path d="M732,49.1 L748.3,39.1 V58.6 Z" stroke-width="1.4"/>
<g transform="translate(644,8.6) rotate(7.43)"><rect x="-4.6" y="0" width="9.2" height="98.22" stroke-width="1.8" fill="#fff"/></g>
<g transform="translate(628.6,126) rotate(5.99)">
<path d="M-11.6,0 L-10.8,247.71 Q-10.8,258.71 0,258.71 Q10.8,258.71 10.8,247.71 L11.6,0 Z" fill="#fff" stroke-width="1.8"/>
<path d="M0,3 V250.71" stroke-width="1.2" stroke-dasharray="6,4.5"/>
</g>
<g transform="translate(631.2,109.5) rotate(6.71)"><rect x="-10.5" y="-4.25" width="21" height="8.5" stroke-width="1.8" fill="#fff"/></g>
<g transform="translate(629.8,119.5) rotate(6.71)"><rect x="-17" y="-7.75" width="34" height="15.5" stroke-width="1.8" fill="#fff"/></g>
<g transform="translate(853.2,22.5) rotate(9.68)"><rect x="-4.6" y="0" width="9.2" height="99.92" stroke-width="1.8" fill="#fff"/></g>
<g transform="translate(832.6,141) rotate(7.56)">
<path d="M-11.6,0 L-10.8,245.83 Q-10.8,256.83 0,256.83 Q10.8,256.83 10.8,245.83 L11.6,0 Z" fill="#231815" stroke="#231815" stroke-width="1.5"/>
</g>
<g transform="translate(837,124.8) rotate(8.62)"><rect x="-10.5" y="-4.25" width="21" height="8.5" stroke-width="1.8" fill="#fff"/></g>
<g transform="translate(835.2,134.2) rotate(8.62)"><rect x="-17" y="-7.75" width="34" height="15.5" stroke-width="1.8" fill="#fff"/></g>
</svg></body></html>
